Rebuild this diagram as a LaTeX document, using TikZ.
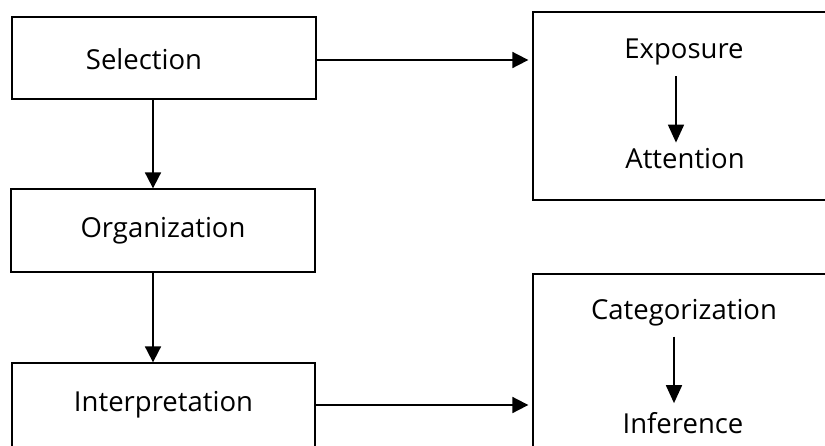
\documentclass[tikz,border=0pt]{standalone}
\usepackage{fontspec}
\setmainfont{Open Sans}
\usetikzlibrary{arrows.meta}
\begin{document}
\begin{tikzpicture}[x=1pt,y=-1pt,
  stage/.style={draw, line width=1.3pt, inner sep=0pt},
  txt/.style={inner sep=0pt, font=\fontsize{27.5}{33}\selectfont},
  flow/.style={line width=1.8pt, -{Triangle[length=16pt,width=16pt]}},
  subflow/.style={line width=1.8pt, -{Triangle[length=18pt,width=16pt]}}]
\useasboundingbox (0,0) rectangle (825,445);
\clip (0,0) rectangle (825,445);

% left column: the three stages
\node[stage, minimum width=304pt, minimum height=82pt,
      label={[txt, xshift=-20pt, yshift=-1pt]center:Selection}] (sel) at (164,58) {};
\node[stage, txt, minimum width=304pt, minimum height=83pt] (org) at (163,230.5) {Organization};
\node[stage, txt, minimum width=303pt, minimum height=84pt] (interp) at (163.5,405) {Interpretation};

% right column: frames running off the page edge
\node[stage, minimum width=294pt, minimum height=188pt] (expobox) at (680,106) {};
\node[stage, minimum width=294pt, minimum height=186pt] (catbox) at (680,367) {};

\node[txt] (expo) at (684,52) {Exposure};
\node[txt] (att) at (685,159) {Attention};
\node[txt] (cat) at (684,313) {Categorization};
\node[txt] (inf) at (683,423) {Inference};

% connectors
\draw[flow] ([xshift=-11pt]sel.south) -- ([xshift=-10pt]org.north);
\draw[flow] ([xshift=-10pt]org.south) -- ([xshift=-10.5pt]interp.north);
\draw[flow, shorten >=4pt] ([yshift=-2pt]sel.east) -- ([yshift=-2pt]sel.east -| expobox.west);
\draw[flow, shorten >=4pt] (interp.east) -- (interp.east -| catbox.west);

\draw[subflow] ([xshift=-8pt,yshift=-11pt]expo.south) -- ([xshift=-9pt,yshift=6pt]att.north);
\draw[subflow] ([xshift=-10pt,yshift=-10pt]cat.south) -- ([xshift=-9pt,yshift=9pt]inf.north);
\end{tikzpicture}
\end{document}
